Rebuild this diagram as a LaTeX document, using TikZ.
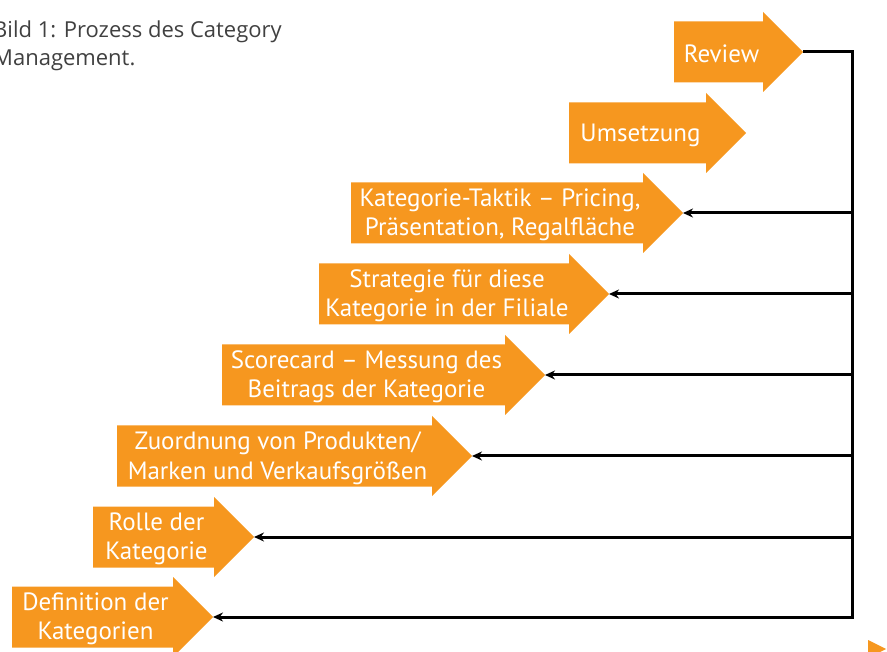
\documentclass[tikz,border=0pt]{standalone}
\usepackage{fontspec}
\usepackage{tikz}
\usetikzlibrary{arrows.meta}
\newfontfamily\etfont{PT Sans}
\newfontfamily\capfont{Open Sans}
\definecolor{cmorange}{HTML}{F6971F}
\definecolor{capgray}{HTML}{404040}

\tikzset{
	etappe/.style={fill=cmorange},
	etikett/.style={text=white, align=center, inner sep=0pt, font=\etfont\fontsize{25}{29.5}\selectfont},
	rueck/.style={line width=3pt, -{Stealth[length=10pt,width=9pt]}},
}

\begin{document}
\begin{tikzpicture}[x=1pt,y=-1pt]
	\useasboundingbox (0,0) rectangle (887,652);
	\node[capgray, anchor=north west, inner sep=0pt, align=left, font=\capfont\fontsize{22}{27.5}\selectfont] (titel) at (-7,21) {Bild 1: Prozess des Category\\Management.};
	% Pfeile: Name / linker Rand / Spitze / Mitte y / Text
	\foreach \n/\l/\t/\y/\txt in {
		rev/674/803/52/{Review},
		ums/569/746/133/{Umsetzung},
		tak/351/683/213/{Kategorie-Taktik – Pricing,\\Präsentation, Regalfläche},
		str/319/609/294/{Strategie für diese\\Kategorie in der Filiale},
		sco/222/545/375/{Scorecard – Messung des\\Beitrags der Kategorie},
		zuo/117/472/456/{Zuordnung von Produkten/\\Marken und Verkaufsgrößen},
		rol/93/254/537/{Rolle der\\Kategorie},
		def/12/213/617/{Definition der\\Kategorien}}
	{
		\fill[etappe] (\l,\y-30.5) -- (\t-40,\y-30.5) -- (\t-40,\y-40) -- (\t,\y)
			-- (\t-40,\y+40) -- (\t-40,\y+30.5) -- (\l,\y+30.5) -- cycle;
		\node[etikett] (\n) at ({(\l+\t-40)/2+3},\y+2) {\txt};
		\coordinate (\n-tip) at (\t,\y);
	}
	% kleiner Pfeil unten rechts
	\fill[etappe] (868,640) -- (886,649) -- (868,658) -- cycle;
	% Rueckkopplung
	\coordinate (rail) at (852,617);
	\draw[rueck] (rev-tip) -| (rail) -- (def-tip);
	\foreach \n in {tak,str,sco,zuo,rol}
		\draw[rueck] (\n-tip -| rail) -- (\n-tip);
\end{tikzpicture}
\end{document}
